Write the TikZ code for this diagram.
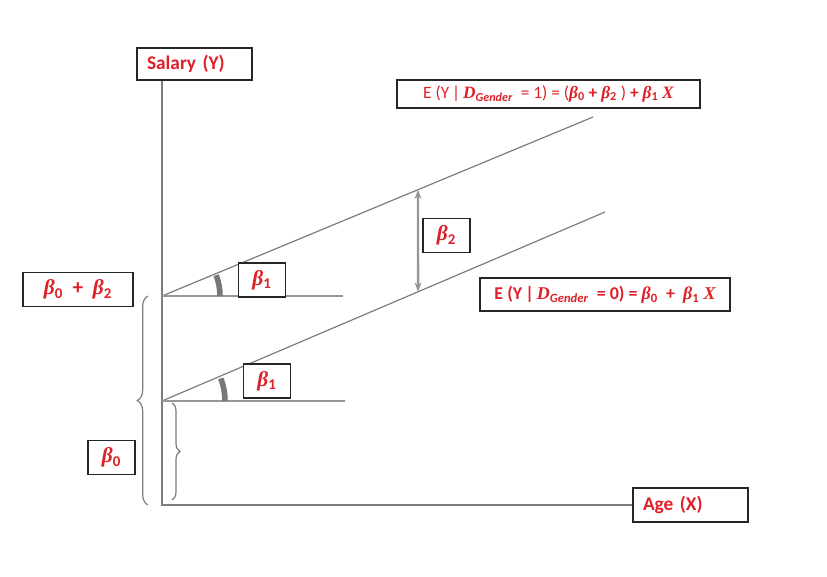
\documentclass[tikz,border=0pt]{standalone}
\usepackage{fontspec}
\setmainfont{Carlito}
\newfontfamily\grkfont{Liberation Serif}
\usepackage{amsmath}
\usetikzlibrary{arrows.meta,calc,positioning,decorations.pathreplacing}
\definecolor{labred}{RGB}{222,32,40}
\definecolor{linegray}{RGB}{125,125,125}
\definecolor{markgray}{RGB}{120,120,120}
% bold italic symbols
\newcommand{\bsym}[1]{{\grkfont\bfseries\itshape #1}}
\newcommand{\bet}[1]{\bsym{β}$_{\mathbf{#1}}$}
\tikzset{
  labbox/.style={draw=black!85, fill=white, text=labred, line width=0.9pt, inner sep=0pt, text centered},
  axisbox/.style={labbox, font=\fontsize{14.5}{16}\selectfont\bfseries, inner xsep=10*0.75pt,
    text width=95*0.75pt, align=left},
  eqbox/.style={labbox, font=\fontsize{13}{15}\selectfont},
  betabox/.style={labbox, font=\fontsize{16}{18}\selectfont, minimum width=47*0.75pt, minimum height=34*0.75pt},
  axisline/.style={draw=linegray, line width=1.3pt},
  fitline/.style={draw=linegray, line width=0.9pt},
  guide/.style={draw=linegray!80, line width=0.9pt},
  anglemark/.style={draw=markgray, line width=4.2pt},
  bracemark/.style={draw=linegray, line width=0.9pt, decorate}
}
\begin{document}
\begin{tikzpicture}[x=0.75pt, y=-0.75pt]
  \useasboundingbox (0,0) rectangle (827,576);
  % points of the two lines
  \coordinate (O) at (162,505);
  \coordinate (p1) at (162,296);
  \coordinate (p1end) at (593,117);
  \coordinate (p0) at (162,401);
  \coordinate (p0end) at (605,212);
  \coordinate (h1) at (343,296);
  \coordinate (h0) at (345,401);
  \coordinate (a1) at ($(p1)!0.594!(p1end)$);
  \coordinate (a0) at ($(p0)!0.578!(p0end)$);

  % axes
  \node[axisbox, minimum height=32*0.75pt] (salary) at (194.5,64) {Salary (Y)};
  \node[axisbox, minimum height=34*0.75pt] (age) at (690.5,505) {Age (X)};
  \draw[axisline] (O |- salary.south) -- (O) -- (age.west);

  % regression lines
  \draw[fitline] (p1) -- (p1end);
  \draw[fitline] (p0) -- (p0end);
  \draw[guide] (p1) -- (h1);
  \draw[guide] (p0) -- (h0);
  \draw[anglemark] ($(p1)+(58,0)$) arc[start angle=0, end angle=-21, radius=58];
  \draw[anglemark] ($(p0)+(63,0)$) arc[start angle=0, end angle=-21, radius=63];
  \draw[draw=linegray!80, line width=1.8pt, {Stealth[length=7pt]}-{Stealth[length=7pt]}] (a1) -- (a0);

  % braces
  \draw[bracemark, decoration={brace, amplitude=8pt}] (148,505) -- (148,296);
  \draw[bracemark, decoration={brace, amplitude=6pt}] (172,403) -- (172,500);

  % labels
  \node[betabox] (b1up) at (262,280) {\bet{1}};
  \node[betabox] (b1low) at (267,381) {\bet{1}};
  \node[betabox] (b2) at (446.5,235.5) {\bet{2}};
  \node[betabox] (b0) at (111.5,457.5) {\bet{0}};
  \node[betabox, minimum width=110*0.75pt] (b0b2) at (78,289.5) {\bet{0}\ \ \textbf{+}\ \ \bet{2}};
  \node[eqbox, minimum width=303*0.75pt, minimum height=28*0.75pt] (eqone) at (548.5,94)
    {E (Y\,|\,\bsym{D}$_{\text{\bfseries\itshape Gender}}$\ \ = 1) = (\bet{0} \textbf{+} \bet{2} ) \textbf{+} \bet{1} \bsym{X}};
  \node[eqbox, font=\fontsize{13.5}{15}\selectfont\bfseries, minimum width=250*0.75pt, minimum height=33*0.75pt] (eqzero) at (605,294.5)
    {E (Y\,|\,\bsym{D}$_{\text{\bfseries\itshape Gender}}$\ \ = 0) = \bet{0}\ \ +\ \ \bet{1} \bsym{X}};
\end{tikzpicture}
\end{document}
